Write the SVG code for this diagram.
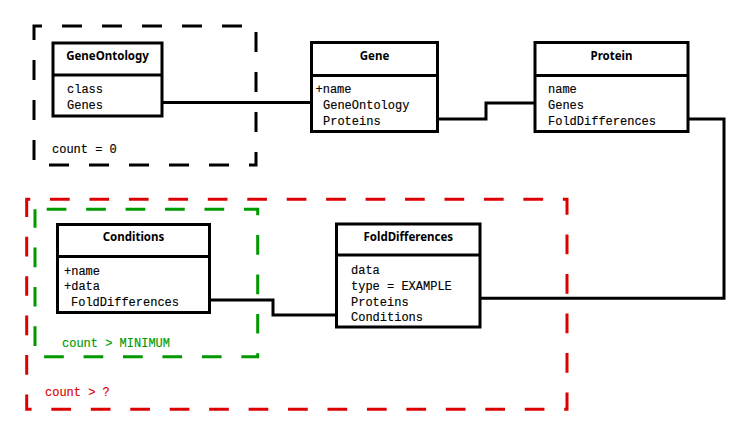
<svg xmlns="http://www.w3.org/2000/svg" width="751" height="436" viewBox="0 0 751 436">
  <style>
    .box { fill: #ffffff; stroke: #000000; stroke-width: 3; }
    .sep { stroke: #000000; stroke-width: 3; }
    .title { font-family: "Noto Sans", "DejaVu Sans", sans-serif; font-weight: bold; font-size: 11.5px; text-anchor: middle; fill: #000000; }
    .attr { font-family: "Liberation Mono", "DejaVu Sans Mono", monospace; font-size: 12px; fill: #000000; stroke: #000000; stroke-width: 0.15; }
    .wire { fill: none; stroke: #000000; stroke-width: 3; }
    .frame { fill: none; stroke-width: 3; }
    .note { font-family: "Liberation Mono", "DejaVu Sans Mono", monospace; font-size: 12px; stroke-width: 0.15; }
  </style>

  <!-- grouping frames -->
  <g id="frames">
    <path class="frame" d="M34,26 H256 V165 H34 Z" stroke="#000000" stroke-dasharray="20 20" stroke-dashoffset="12"/>
    <path class="frame" d="M26.7,199.3 H567 V409.3 H26.7 Z" stroke="#dd0000" stroke-dasharray="19.7 19.75" stroke-dashoffset="16.15"/>
    <path class="frame" d="M35,209.3 H257.7 V356.7 H35 Z" stroke="#009900" stroke-dasharray="19.7 19.75" stroke-dashoffset="27.75"/>
    <text class="note" x="52" y="153" fill="#000000" stroke="#000000">count = 0</text>
    <text class="note" x="62" y="347" fill="#009900" stroke="#009900">count &gt; MINIMUM</text>
    <text class="note" x="45" y="396" fill="#dd0000" stroke="#dd0000">count &gt; ?</text>
  </g>

  <!-- connectors -->
  <g id="connectors">
    <path class="wire" d="M162,102.5 H311"/>
    <path class="wire" d="M438,119 H486 V103 H535"/>
    <path class="wire" d="M688,119 H724 V298.3 H480"/>
    <path class="wire" d="M209,300 H273 V315 H337"/>
  </g>

  <g id="GeneOntology">
    <rect class="box" x="53" y="43" width="109" height="73"/>
    <line class="sep" x1="53" y1="75" x2="162" y2="75"/>
    <text class="title" x="107.5" y="60">GeneOntology</text>
    <text class="attr" x="67" y="93">class</text>
    <text class="attr" x="67" y="109">Genes</text>
  </g>

  <g id="Gene">
    <rect class="box" x="311.5" y="42.5" width="126" height="89"/>
    <line class="sep" x1="311.5" y1="75.5" x2="437.5" y2="75.5"/>
    <text class="title" x="374.5" y="60">Gene</text>
    <text class="attr" x="315.5" y="92.5">+name</text>
    <text class="attr" x="323" y="108.5">GeneOntology</text>
    <text class="attr" x="323" y="124.5">Proteins</text>
  </g>

  <g id="Protein">
    <rect class="box" x="535" y="42.5" width="153" height="89"/>
    <line class="sep" x1="535" y1="75.5" x2="688" y2="75.5"/>
    <text class="title" x="611.5" y="60">Protein</text>
    <text class="attr" x="548" y="92.5">name</text>
    <text class="attr" x="548" y="108.5">Genes</text>
    <text class="attr" x="548" y="124.5">FoldDifferences</text>
  </g>

  <g id="Conditions">
    <rect class="box" x="57.5" y="224.5" width="152" height="88"/>
    <line class="sep" x1="57.5" y1="256.5" x2="209.5" y2="256.5"/>
    <text class="title" x="133.5" y="241">Conditions</text>
    <text class="attr" x="64" y="274.5">+name</text>
    <text class="attr" x="64" y="290">+data</text>
    <text class="attr" x="71" y="305.5">FoldDifferences</text>
  </g>

  <g id="FoldDifferences">
    <rect class="box" x="336.5" y="224" width="143.5" height="103"/>
    <line class="sep" x1="336.5" y1="255" x2="480" y2="255"/>
    <text class="title" x="408.3" y="240.5">FoldDifferences</text>
    <text class="attr" x="351" y="274">data</text>
    <text class="attr" x="351" y="290">type = EXAMPLE</text>
    <text class="attr" x="351" y="305.5">Proteins</text>
    <text class="attr" x="351" y="321">Conditions</text>
  </g>
</svg>
